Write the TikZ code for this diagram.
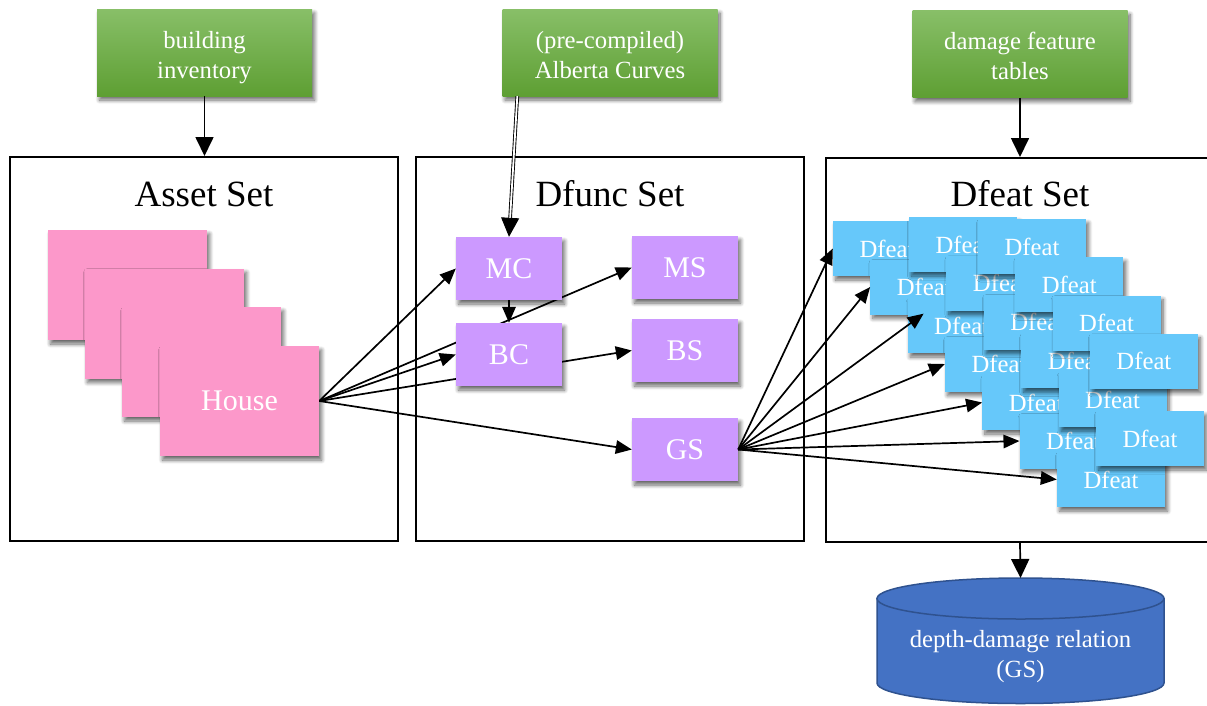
\documentclass[tikz,border=0pt]{standalone}
\usepackage{fontspec}
\setmainfont{Liberation Serif}
\usetikzlibrary{arrows.meta,shadows,shadows.blur,backgrounds,calc}

\definecolor{pinkbox}{HTML}{FC98CA}
\definecolor{purplebox}{HTML}{CC99FF}
\definecolor{bluebox}{HTML}{66C8FA}
\definecolor{greentop}{HTML}{88BF68}
\definecolor{greenbot}{HTML}{5E9F33}
\definecolor{cylfill}{HTML}{4472C4}
\definecolor{cyledge}{HTML}{2F528F}

\tikzset{
  softshadow/.style={blur shadow={shadow xshift=2.5pt, shadow yshift=-4pt,
      shadow blur radius=4pt, shadow blur steps=8, shadow opacity=60}},
  container/.style={draw, line width=2pt, minimum width=388pt,
      minimum height=384pt, inner sep=0pt},
  settitle/.style={font=\fontsize{37}{44}\selectfont},
  source/.style={top color=greentop, bottom color=greenbot,
      minimum width=215pt, minimum height=87pt, inner sep=0pt, softshadow},
  sourcetext/.style={text=white, align=center, inner sep=0pt,
      font=\fontsize{24.7}{30}\selectfont},
  asset/.style={fill=pinkbox, minimum width=159pt, minimum height=110pt,
      text=white, font=\fontsize{30}{36}\selectfont, softshadow},
  dfunc/.style={fill=purplebox, minimum width=106pt, minimum height=63pt,
      text=white, font=\fontsize{30}{36}\selectfont, softshadow},
  dfeat/.style={fill=bluebox, minimum width=108pt, minimum height=55pt,
      text=white, font=\fontsize{24.7}{30}\selectfont, softshadow},
  link/.style={line width=1.7pt, -{Triangle[length=16pt,width=13.5pt]}},
  feed/.style={line width=1.7pt, -{Triangle[length=19pt,width=18pt]}},
}

\begin{document}
\begin{tikzpicture}[x=1pt,y=-1pt]
\useasboundingbox (0,0) rectangle (1207,705);
\clip (0,0) rectangle (1207,705);

% the three sets
\node[container] (assetset) at (204,349) {};
\node[container] (dfuncset) at (610,349) {};
\node[container] (dfeatset) at (1020,350) {};
\node[settitle] (assettitle) at (204,194) {Asset Set};
\node[settitle] (dfunctitle) at (610,194) {Dfunc Set};
\node[settitle] (dfeattitle) at (1020,194) {Dfeat Set};

% input data
\node[source] (inventory) at (204.5,52.5) {};
\node[source] (alberta) at (610,52.5) {};
\node[source] (tables) at (1020,54) {};
\node[sourcetext] (inventorytext) at ($(inventory)+(0,4.5)$)
  {\strut building\\\strut inventory};
\node[sourcetext] (albertatext) at ($(alberta)+(0,4.5)$)
  {\strut (pre-compiled)\\\strut Alberta Curves};
\node[sourcetext] (tablestext) at ($(tables)+(0,4.5)$)
  {\strut damage feature\\\strut tables};

% assets
\node[asset] (h1) at (127.5,285) {};
\node[asset] (h2) at (164.5,323.5) {};
\node[asset] (h3) at (201.5,362) {};
\node[asset] (house) at (239.5,401) {House};

% damage functions
\node[dfunc] (MC) at (509,268.5) {MC};
\node[dfunc] (BC) at (509,354.5) {BC};
\node[dfunc] (MS) at (685,267.5) {MS};
\node[dfunc] (BS) at (685,350.5) {BS};
\node[dfunc] (GS) at (685,449.5) {GS};

% damage features
\foreach \k in {1,...,7}
  \node[dfeat] (A\k) at ({887+37.33*(\k-1)},{248.5+38.5*(\k-1)}) {Dfeat};
\foreach \k in {1,...,6}
  \node[dfeat] (B\k) at ({963+37.4*(\k-1)},{244.5+38.8*(\k-1)}) {Dfeat};
\foreach \k in {1,...,4}
  \node[dfeat] (C\k) at ({1032+37.3*(\k-1)},{246.5+38.3*(\k-1)}) {Dfeat};

% depth-damage store
\path[fill=cylfill, draw=cyledge, line width=1.5pt]
  (877,598.5) -- (877,683)
  arc[start angle=180, end angle=360, x radius=143.5pt, y radius=20.5pt]
  -- (1164,598.5) -- cycle;
\path[fill=cylfill, draw=cyledge, line width=1.5pt]
  (1020.5,598.5) ellipse[x radius=143.5pt, y radius=20.5pt];
\coordinate (cyltop) at (1020.5,578);
\node[sourcetext] (cyllabel) at (1020.5,656)
  {\strut depth-damage relation\\\strut (GS)};

% feeds
\draw[feed] (inventory.south) -- (inventory.south |- assetset.north);
\draw[feed] (tables.south) -- (tables.south |- dfeatset.north);
\draw[feed] (dfeatset.south) -- (cyltop);
\coordinate (albertafoot) at ($(alberta.south west)+(15,0)$);
\draw[feed, double, double distance=1.8pt, line width=0.9pt]
  (albertafoot) -- (MC.north);

% asset to functions, running beneath the function boxes
\begin{pgfonlayer}{background}
\foreach \f in {MC,BC,MS,BS,GS}
  \draw[link] (house.east) -- (\f.west);
\end{pgfonlayer}
\draw[link] (MC.south) -- (BC.north);

% GS to its features
\foreach \k in {1,2,4,5,6,7}
  \draw[link] (GS.east) -- (A\k.west);
\draw[link, shorten >=-20pt] (GS.east) -- (A3.west);
\end{tikzpicture}
\end{document}
